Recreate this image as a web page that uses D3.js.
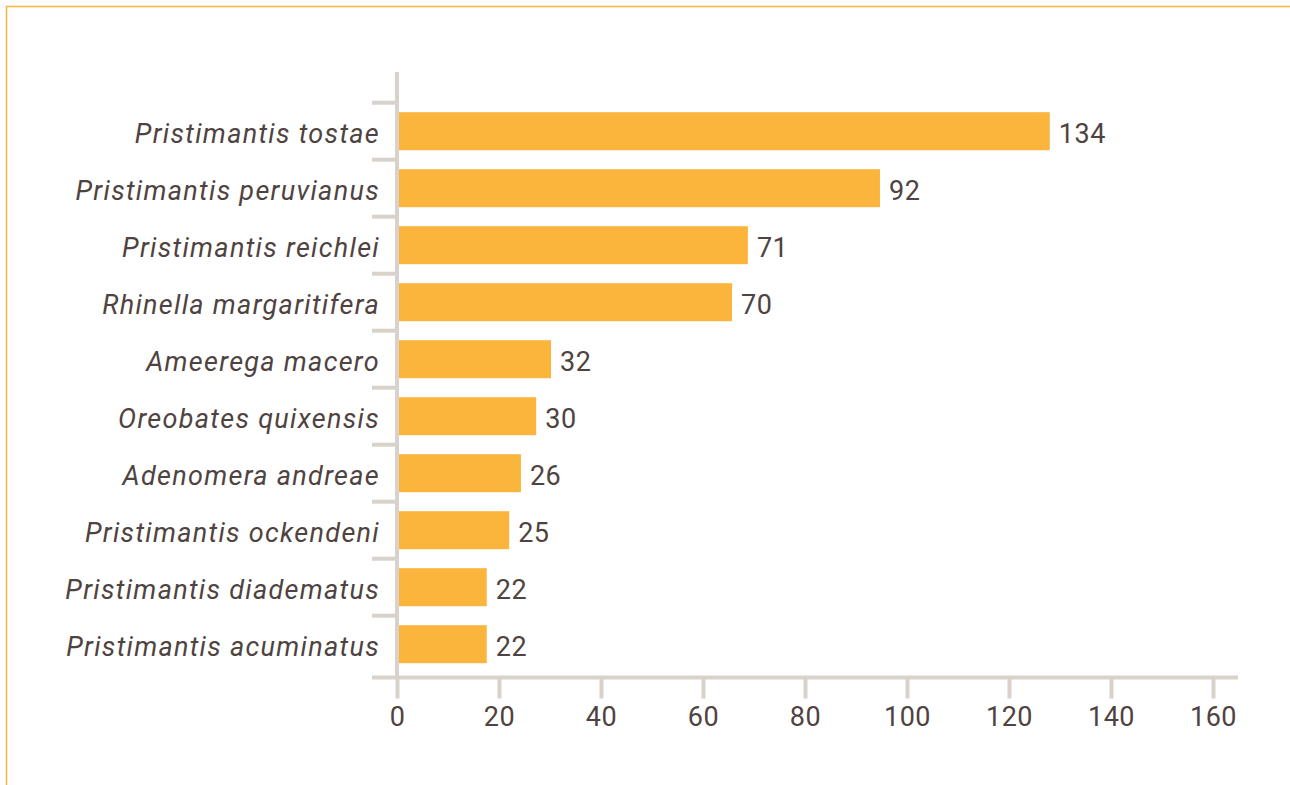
<!DOCTYPE html>
<html>
<head>
<meta charset="utf-8">
<script src="https://cdn.jsdelivr.net/npm/d3@7"></script>
<style>
  html, body { margin: 0; padding: 0; background: #fff; }
  svg { display: block; }
  text { font-family: Roboto, "Noto Sans", sans-serif; fill: #4f4341; }
</style>
</head>
<body>
<svg id="chart" width="1290" height="785"></svg>
<script>
// species shown on the y axis, top to bottom
var species = [
  "Pristimantis tostae",
  "Pristimantis peruvianus",
  "Pristimantis reichlei",
  "Rhinella margaritifera",
  "Ameerega macero",
  "Oreobates quixensis",
  "Adenomera andreae",
  "Pristimantis ockendeni",
  "Pristimantis diadematus",
  "Pristimantis acuminatus"
];
// numbers printed next to each bar
var counts = [ 134, 92, 71, 70, 32, 30, 26, 25, 22, 22 ];
// bar lengths as drawn in the picture (they do not follow the printed numbers)
var barLengths = [ 128, 94.7, 68.8, 65.7, 30.2, 27.3, 24.3, 22.0, 17.6, 17.6 ];
var xTicks = [ 0, 20, 40, 60, 80, 100, 120, 140, 160 ];

var BAR_COLOR = "#fbb53c";
var AXIS_COLOR = "#d9d2cb";

var svg = d3.select( "#chart" );

// frame: only top and left edges are visible
svg.append( "line" )
  .attr( "x1", 6 ).attr( "y1", 6.5 ).attr( "x2", 1290 ).attr( "y2", 6.5 )
  .attr( "stroke", BAR_COLOR ).attr( "stroke-width", 1.5 );
svg.append( "line" )
  .attr( "x1", 6.5 ).attr( "y1", 6 ).attr( "x2", 6.5 ).attr( "y2", 785 )
  .attr( "stroke", BAR_COLOR ).attr( "stroke-width", 1.5 );

var x = d3.scaleLinear().domain( [ 0, 160 ] ).range( [ 397, 1213 ] );
var y = d3.scaleBand().domain( species ).range( [ 102.7, 672.7 ] )
  .paddingInner( 1 / 3 ).paddingOuter( 1 / 6 );

var axisY = 677.5;

// x axis ticks and labels
var xAxis = d3.axisBottom( x ).tickValues( xTicks ).tickSize( 21 ).tickPadding( 8 );
var gx = svg.append( "g" )
  .attr( "transform", "translate(0," + axisY + ")" )
  .call( xAxis );
gx.select( ".domain" ).remove();
gx.selectAll( ".tick line" ).attr( "stroke", AXIS_COLOR ).attr( "stroke-width", 4 );
gx.selectAll( ".tick text" )
  .style( "font-size", "27px" )
  .style( "letter-spacing", "0.5px" )
  .attr( "dy", "0.71em" )
  .style( "fill", "#4f4341" );

// x axis line
svg.append( "line" )
  .attr( "x1", 372 ).attr( "y1", axisY ).attr( "x2", 1238 ).attr( "y2", axisY )
  .attr( "stroke", AXIS_COLOR ).attr( "stroke-width", 4 );

// y axis line
svg.append( "line" )
  .attr( "x1", x( 0 ) ).attr( "y1", 72 ).attr( "x2", x( 0 ) ).attr( "y2", axisY )
  .attr( "stroke", AXIS_COLOR ).attr( "stroke-width", 4 );

// y ticks at category boundaries
var gap = ( y.step() - y.bandwidth() ) / 2;
svg.selectAll( ".ytick" )
  .data( species )
  .enter()
  .append( "line" )
  .attr( "class", "ytick" )
  .attr( "x1", 372 )
  .attr( "x2", x( 0 ) )
  .attr( "y1", function( d ){ return y( d ) - gap; } )
  .attr( "y2", function( d ){ return y( d ) - gap; } )
  .attr( "stroke", AXIS_COLOR )
  .attr( "stroke-width", 4 );

// bars
svg.selectAll( ".bar" )
  .data( species )
  .enter()
  .append( "rect" )
  .attr( "class", "bar" )
  .attr( "x", x( 0 ) + 2 )
  .attr( "y", function( d ){ return y( d ); } )
  .attr( "width", function( d, i ){ return x( barLengths[ i ] ) - x( 0 ) - 2; } )
  .attr( "height", y.bandwidth() )
  .attr( "fill", BAR_COLOR );

// value labels
svg.selectAll( ".value" )
  .data( species )
  .enter()
  .append( "text" )
  .attr( "class", "value" )
  .attr( "x", function( d, i ){ return x( barLengths[ i ] ) + 9; } )
  .attr( "y", function( d ){ return y( d ) + y.bandwidth() / 2; } )
  .attr( "dy", "0.43em" )
  .style( "font-size", "27px" )
  .style( "letter-spacing", "0.5px" )
  .text( function( d, i ){ return counts[ i ]; } );

// species labels
svg.selectAll( ".species" )
  .data( species )
  .enter()
  .append( "text" )
  .attr( "class", "species" )
  .attr( "x", 380 )
  .attr( "y", function( d ){ return y( d ) + y.bandwidth() / 2; } )
  .attr( "dy", "0.43em" )
  .attr( "text-anchor", "end" )
  .style( "font-size", "27px" )
  .style( "font-style", "italic" )
  .style( "letter-spacing", "1.3px" )
  .text( function( d ){ return d; } );
</script>
</body>
</html>
